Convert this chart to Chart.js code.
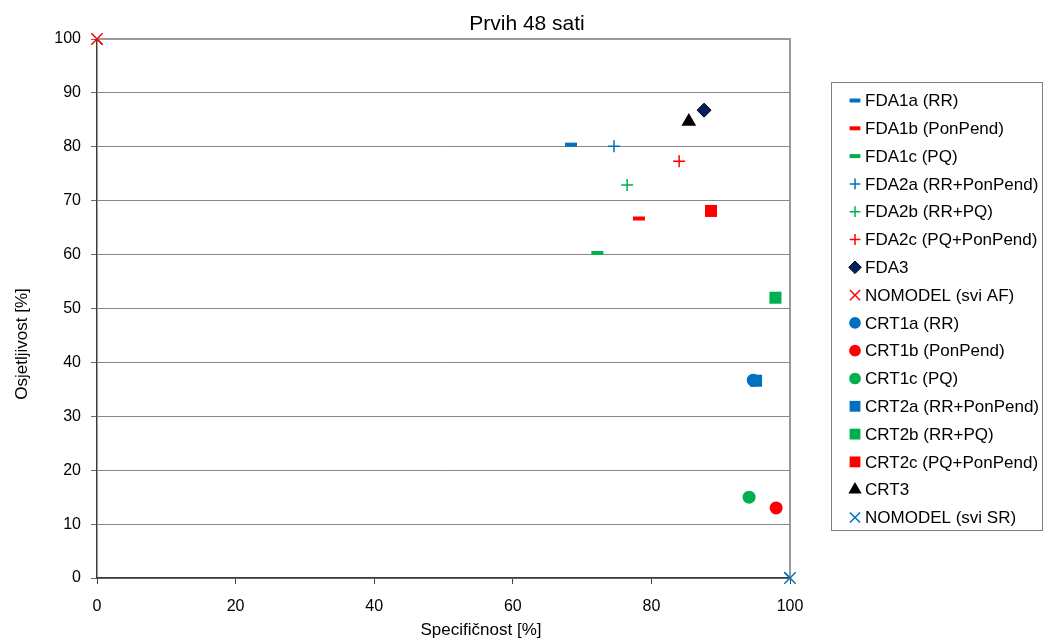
<!DOCTYPE html>
<html><head><meta charset="utf-8">
<script src="https://cdn.jsdelivr.net/npm/chart.js@4/dist/chart.umd.min.js"></script>
<style>html,body{margin:0;padding:0;background:#fff;overflow:hidden}canvas{display:block}</style>
</head><body>
<canvas id="c" width="1048" height="639"></canvas>
<script>
const chartTitle = 'Prvih 48 sati';
const xTitle = 'Specifičnost [%]';
const yTitle = 'Osjetljivost [%]';

const seriesNames = ['FDA1a (RR)','FDA1b (PonPend)','FDA1c (PQ)','FDA2a (RR+PonPend)','FDA2b (RR+PQ)','FDA2c (PQ+PonPend)','FDA3','NOMODEL (svi AF)','CRT1a (RR)','CRT1b (PonPend)','CRT1c (PQ)','CRT2a (RR+PonPend)','CRT2b (RR+PQ)','CRT2c (PQ+PonPend)','CRT3','NOMODEL (svi SR)'];
const specificity = [68.4, 78.2, 72.2, 74.6, 76.5, 84.0, 87.6, 0, 94.7, 98.0, 94.1, 95.1, 97.9, 88.6, 85.4, 100];
const sensitivity = [80.4, 66.7, 60.3, 80.1, 72.9, 77.3, 86.8, 100, 36.7, 13.0, 15.0, 36.6, 52.0, 68.1, 84.7, 0];
const seriesColors = ['#0070C0','#FF0000','#00B050','#0070C0','#00B050','#FF0000','#002060','#FF0000','#0070C0','#FF0000','#00B050','#0070C0','#00B050','#FF0000','#000000','#0070C0'];
const seriesMarkers = ['dash','dash','dash','plus','plus','plus','diamond','x','circle','circle','circle','square','square','square','triangle','x'];
const xTicks = [0, 20, 40, 60, 80, 100];
const yTicks = [0, 10, 20, 30, 40, 50, 60, 70, 80, 90, 100];

const FONT = '"Liberation Sans", Arial, sans-serif';
const markerStyles = {
  dash:    {pointStyle:'line',     radius:6,   borderWidth:4,   border:null},
  plus:    {pointStyle:'cross',    radius:6,   borderWidth:1.5, border:null},
  diamond: {pointStyle:'rectRot',  radius:7,   borderWidth:1,   border:'#000000'},
  x:       {pointStyle:'crossRot', radius:8,   borderWidth:1.5, border:null},
  circle:  {pointStyle:'circle',   radius:6.5, borderWidth:0,   border:null},
  square:  {pointStyle:'rect',     radius:8.5, borderWidth:0,   border:null},
  triangle:{pointStyle:'triangle', radius:8.5, borderWidth:0,   border:null}
};

const datasets = seriesNames.map((name, i) => {
  const m = markerStyles[seriesMarkers[i]];
  const col = seriesColors[i];
  return {
    label: name,
    data: [{x: specificity[i], y: sensitivity[i]}],
    showLine: false,
    pointStyle: m.pointStyle,
    pointRadius: m.radius,
    pointHoverRadius: m.radius,
    pointBorderWidth: m.borderWidth,
    pointBackgroundColor: col,
    pointBorderColor: m.border || col
  };
});

const decor = {
  id: 'decor',
  afterDraw(chart) {
    const ctx = chart.ctx;
    const a = chart.chartArea;
    ctx.save();
    // plot area border (top & right)
    ctx.strokeStyle = '#9a9a9a';
    ctx.lineWidth = 2;
    ctx.beginPath();
    ctx.moveTo(a.left, a.top); ctx.lineTo(a.right, a.top); ctx.lineTo(a.right, a.bottom);
    ctx.stroke();
    // redraw edge markers on top of the border
    chart.data.datasets.forEach((ds, i) => {
      const p = chart.getDatasetMeta(i).data[0];
      if (p && (ds.data[0].x === 0 || ds.data[0].x === 100)) p.draw(ctx, {left:0,top:0,right:chart.width,bottom:chart.height});
    });
    // title
    ctx.fillStyle = '#000';
    ctx.textAlign = 'center';
    ctx.textBaseline = 'alphabetic';
    ctx.font = '21px ' + FONT;
    ctx.fillText(chartTitle, 527, 30);
    // axis titles
    ctx.font = '17px ' + FONT;
    ctx.fillText(xTitle, 481, 635);
    ctx.save();
    ctx.translate(27, 344);
    ctx.rotate(-Math.PI / 2);
    ctx.fillText(yTitle, 0, 0);
    ctx.restore();
    // legend
    const lx = 831.5, ly = 82.5, lw = 211, lh = 448;
    ctx.fillStyle = '#fff';
    ctx.fillRect(lx, ly, lw, lh);
    ctx.strokeStyle = '#808080';
    ctx.lineWidth = 1;
    ctx.strokeRect(lx, ly, lw, lh);
    const y0 = 100.5, step = 27.8;
    ctx.font = '17px ' + FONT;
    ctx.textAlign = 'left';
    ctx.textBaseline = 'middle';
    seriesNames.forEach((name, i) => {
      const y = y0 + i * step;
      const m = markerStyles[seriesMarkers[i]];
      const col = seriesColors[i];
      ctx.fillStyle = col;
      ctx.strokeStyle = m.border || col;
      ctx.lineWidth = m.borderWidth;
      const opts = {pointStyle: m.pointStyle, radius: m.radius * 0.9, rotation: 0, borderWidth: m.borderWidth};
      if (Chart.helpers && Chart.helpers.drawPoint) {
        Chart.helpers.drawPoint(ctx, opts, 855, y);
      } else {
        ctx.beginPath(); ctx.arc(855, y, 5, 0, Math.PI * 2); ctx.fill();
      }
      ctx.fillStyle = '#000';
      ctx.fillText(name, 865, y + 1);
    });
    ctx.restore();
  }
};

new Chart(document.getElementById('c'), {
  type: 'scatter',
  data: { datasets },
  options: {
    responsive: false,
    animation: false,
    events: [],
    layout: { padding: { top: 39, right: 258, bottom: 0, left: 0 } },
    plugins: { legend: { display: false }, tooltip: { enabled: false }, title: { display: false } },
    scales: {
      x: {
        type: 'linear', min: 0, max: 100,
        afterBuildTicks: s => { s.ticks = xTicks.map(v => ({value: v})); },
        afterFit: s => { s.height = 61; },
        grid: { drawOnChartArea: false, drawTicks: true, tickLength: 6, tickColor: '#404040', tickWidth: 1 },
        border: { color: '#3c3c3c', width: 1.5 },
        ticks: { color: '#000', font: { family: FONT, size: 16 }, padding: 13, maxRotation: 0 }
      },
      y: {
        type: 'linear', min: 0, max: 100,
        afterBuildTicks: s => { s.ticks = yTicks.map(v => ({value: v})); },
        afterFit: s => { s.width = 97; },
        grid: { color: '#878787', lineWidth: 1, drawTicks: true, tickLength: 6, tickColor: '#6a6a6a' },
        border: { color: '#3c3c3c', width: 1.5 },
        ticks: { color: '#000', font: { family: FONT, size: 16 }, padding: 10 }
      }
    }
  },
  plugins: [decor]
});
</script>
</body></html>
